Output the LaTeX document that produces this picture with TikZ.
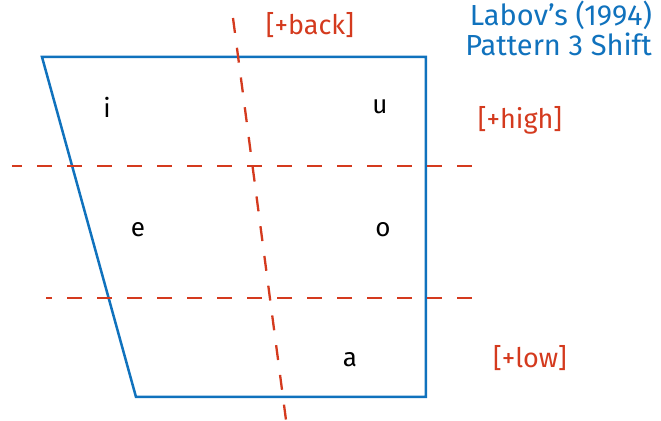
\documentclass[tikz,border=0pt]{standalone}
\usepackage{fontspec}
\setmainfont{Fira Sans}
\definecolor{vblue}{RGB}{16,114,189}
\definecolor{vred}{RGB}{212,58,30}
\begin{document}
\begin{tikzpicture}[x=0.5pt,y=-0.5pt,
  frame/.style={draw=vblue,line width=1.25pt,line join=miter},
  divider/.style={draw=vred,line width=1.15pt,dash pattern=on 7.5pt off 7.5pt},
  vowel/.style={font=\fontsize{13}{15}\selectfont,text=black},
  feat/.style={font=\fontsize{13.5}{16}\selectfont,text=vred},
  title/.style={font=\fontsize{14.5}{17}\selectfont,text=vblue,anchor=east}]
\useasboundingbox (0,0) rectangle (661,421);
\coordinate (tl) at (42,57);
\coordinate (tr) at (426,57);
\coordinate (br) at (426,397);
\coordinate (bl) at (136,397);
\draw[frame] (tl) -- (tr) -- (br) -- (bl) -- cycle;
\coordinate (h1a) at (12,166);
\coordinate (h1b) at (472,166);
\coordinate (h2a) at (46,298);
\coordinate (h2b) at (472,298);
\coordinate (va) at (233,18);
\coordinate (vb) at (286,420);
\draw[divider] (h1b) -- (h1a);
\draw[divider] (h2b) -- (h2a);
\draw[divider] (va) -- (vb);
\node[vowel] (i) at (107,107) {i};
\node[vowel] (u) at (380,107) {u};
\node[vowel] (e) at (138,230) {e};
\node[vowel] (o) at (383,230) {o};
\node[vowel] (a) at (350,360) {a};
\node[feat] (back) at (310,25) {[+back]};
\node[feat] (high) at (520,120) {[+high]};
\node[feat] (low) at (530,358) {[+low]};
\node[title] (t1) at (659,15) {Labov’s (1994)};
\node[title] (t2) at (659,44) {Pattern 3 Shift};
\end{tikzpicture}
\end{document}
